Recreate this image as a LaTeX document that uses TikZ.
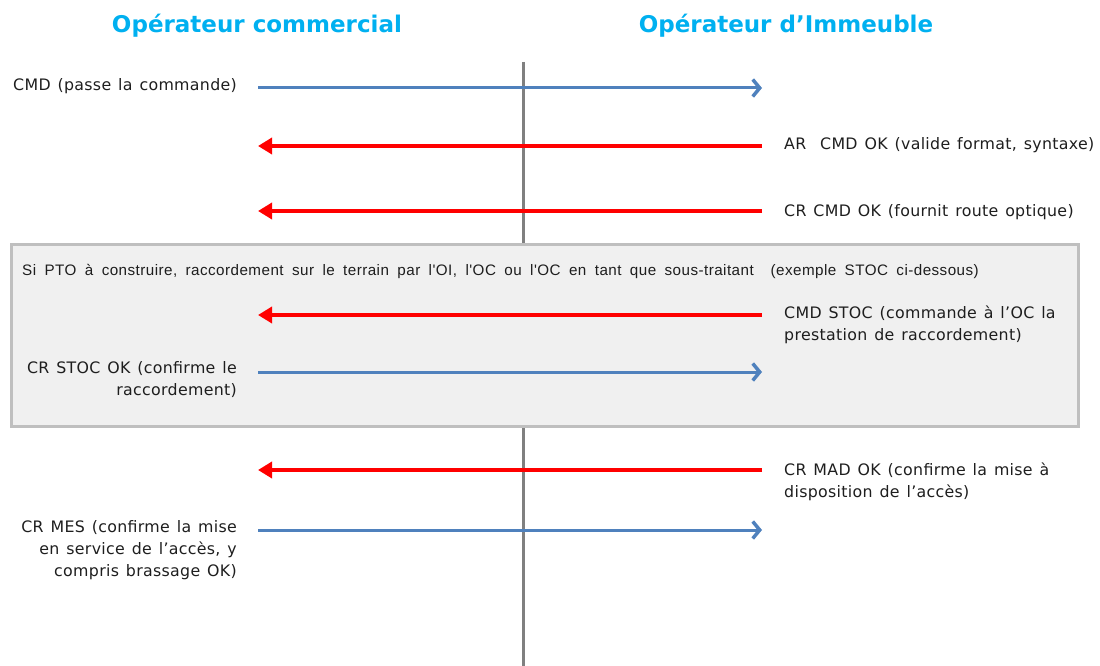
\documentclass[tikz,border=0pt]{standalone}
\usepackage{fontspec}
\usetikzlibrary{arrows.meta}
\newfontfamily\labfont{DejaVu Sans}[LetterSpace=2,WordSpace=1.3]
\newfontfamily\ttlfont{DejaVu Sans}
\newfontfamily\arlfont{Liberation Sans}[LetterSpace=3,WordSpace=1.8]
\definecolor{ttlcyan}{HTML}{00B0F0}
\definecolor{msgblue}{HTML}{4F81BD}
\definecolor{msgred}{HTML}{FF0000}
\definecolor{lifegray}{HTML}{808080}
\definecolor{boxfill}{HTML}{F0F0F0}
\definecolor{boxline}{HTML}{BFBFBF}
\definecolor{txt}{HTML}{1E1E1E}
\tikzset{
  title/.style={font=\ttlfont\bfseries\fontsize{23}{28}\selectfont, text=ttlcyan, inner sep=0pt},
  lbl/.style={font=\labfont\fontsize{15.8}{22}\selectfont, text=txt, inner sep=0pt},
  lblL/.style={lbl, anchor=north east, align=right},
  lblR/.style={lbl, anchor=north west, align=left},
  tooi/.style={draw=msgblue, line width=3pt, -{Straight Barb[length=7pt,width=17pt,line width=3.5pt]}},
  tooc/.style={draw=msgred, line width=4pt, -{Triangle[length=14pt,width=16pt]}},
  lifeline/.style={draw=lifegray, line width=3pt},
  stocbox/.style={draw=boxline, fill=boxfill, line width=3pt, anchor=north west,
    minimum width=1067pt, minimum height=182pt, inner sep=0pt}
}
\begin{document}
\begin{tikzpicture}[x=1pt,y=-1pt]
\useasboundingbox (0,0) rectangle (1100,666);
\node[title] (tOC) at (257,26) {Opérateur commercial};
\node[title] (tOI) at (786,26) {Opérateur d’Immeuble};
\coordinate (lifeTop) at (523,62);
\coordinate (lifeBot) at (523,666);
\draw[lifeline] (lifeTop) -- (lifeBot);
\node[stocbox] (box) at (10,243) {};
\node[font=\arlfont\fontsize{15.2}{18}\selectfont, text=txt, inner sep=0pt, anchor=west] (boxhead) at (22,271)
  {Si PTO à construire, raccordement sur le terrain par l'OI, l'OC ou l'OC en tant que sous-traitant~ (exemple STOC ci-dessous)};
% coordinates of messages
\foreach \n/\y in {1/88,2/146,3/211,4/315,5/372,6/470,7/530}{
  \coordinate (oc\n) at (258,\y);
  \coordinate (oi\n) at (762,\y);
}
\draw[tooi] (oc1) -- (oi1);
\draw[tooc] (oi2) -- (oc2);
\draw[tooc] (oi3) -- (oc3);
\draw[tooc] (oi4) -- (oc4);
\draw[tooi] (oc5) -- (oi5);
\draw[tooc] (oi6) -- (oc6);
\draw[tooi] (oc7) -- (oi7);
\node[lblL] (m1) at (237,78) {CMD (passe la commande)};
\node[lblR] (m2) at (784,137) {AR~ CMD OK (valide format, syntaxe)};
\node[lblR] (m3) at (784,204) {CR CMD OK (fournit route optique)};
\node[lblR] (m4) at (784,306) {CMD STOC (commande à l’OC la\\prestation de raccordement)};
\node[lblL] (m5) at (237,361) {CR STOC OK (confirme le\\raccordement)};
\node[lblR] (m6) at (784,463) {CR MAD OK (confirme la mise à\\disposition de l’accès)};
\node[lblL] (m7) at (237,520) {CR MES (confirme la mise\\en service de l’accès, y\\compris brassage OK)};
\end{tikzpicture}
\end{document}
